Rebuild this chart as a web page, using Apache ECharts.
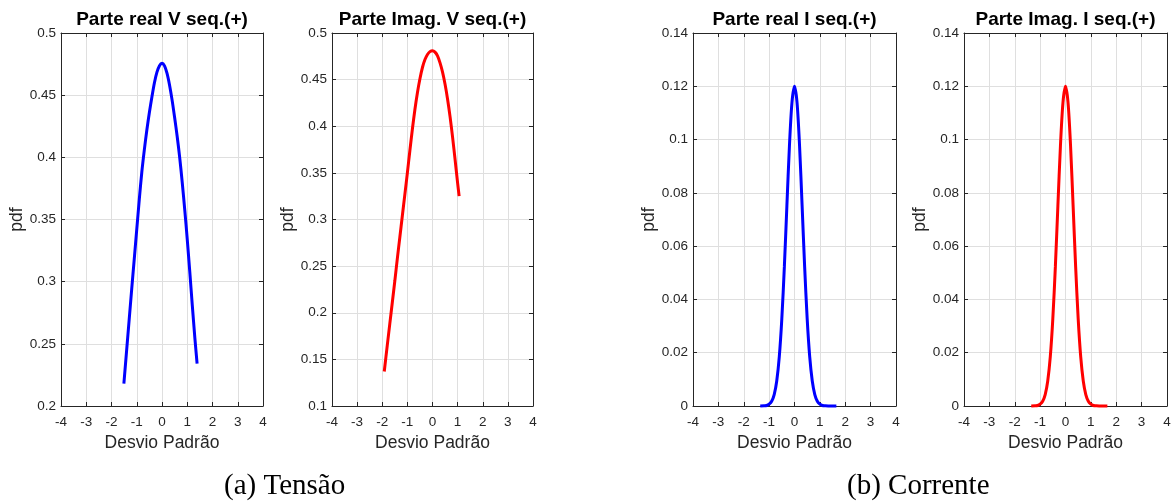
<!DOCTYPE html>
<html>
<head>
<meta charset="utf-8">
<script src="https://cdn.jsdelivr.net/npm/echarts@6/dist/echarts.min.js"></script>
<style>
html,body{margin:0;padding:0;background:#fff;}
#c{width:1176px;height:502px;}
</style>
</head>
<body>
<div id="c"></div>
<script>
// ---- data ----
const titles = ['Parte real V seq.(+)', 'Parte Imag. V seq.(+)', 'Parte real I seq.(+)', 'Parte Imag. I seq.(+)'];
const xTickLabels = ['-4', '-3', '-2', '-1', '0', '1', '2', '3', '4'];
const yTicksV1 = ['0.2', '0.25', '0.3', '0.35', '0.4', '0.45', '0.5'];
const yTicksV2 = ['0.1', '0.15', '0.2', '0.25', '0.3', '0.35', '0.4', '0.45', '0.5'];
const yTicksI = ['0', '0.02', '0.04', '0.06', '0.08', '0.1', '0.12', '0.14'];

const vRealX = [-1.51, -1.4, -1.3, -1.2, -1.1, -1.0, -0.9, -0.8, -0.7, -0.6, -0.5, -0.4, -0.3, -0.2, -0.1, 0, 0.1, 0.2, 0.3, 0.4, 0.5, 0.6, 0.7, 0.8, 0.9, 1.0, 1.1, 1.2, 1.3, 1.39];
const vRealY = [0.218, 0.245, 0.2695, 0.294, 0.318, 0.342, 0.366, 0.388, 0.406, 0.422, 0.436, 0.4485, 0.460, 0.4685, 0.4737, 0.4756, 0.4735, 0.4675, 0.458, 0.446, 0.432, 0.417, 0.400, 0.380, 0.358, 0.334, 0.308, 0.281, 0.255, 0.234];

const vImagX = [-1.92, -1.8, -1.7, -1.6, -1.5, -1.4, -1.3, -1.2, -1.1, -1.0, -0.9, -0.8, -0.7, -0.6, -0.5, -0.4, -0.3, -0.2, -0.1, 0, 0.1, 0.2, 0.3, 0.4, 0.5, 0.6, 0.7, 0.8, 0.9, 1.0, 1.06];
const vImagY = [0.137, 0.165, 0.188, 0.211, 0.234, 0.258, 0.281, 0.304, 0.327, 0.350, 0.374, 0.397, 0.418, 0.436, 0.451, 0.463, 0.4715, 0.477, 0.480, 0.481, 0.4795, 0.4755, 0.468, 0.458, 0.445, 0.429, 0.410, 0.388, 0.364, 0.339, 0.325];

const iRealX = [-1.35, -1.2, -1.1, -1.0, -0.9, -0.8, -0.7, -0.6, -0.5, -0.4, -0.3, -0.2, -0.1, 0, 0.1, 0.2, 0.3, 0.4, 0.5, 0.6, 0.7, 0.8, 0.9, 1.0, 1.1, 1.2, 1.4, 1.65];
const iRealY = [0.0, 0.0001, 0.0002, 0.0007, 0.0018, 0.0043, 0.0094, 0.0184, 0.0327, 0.0522, 0.0751, 0.0975, 0.1139, 0.1200, 0.1139, 0.0975, 0.0751, 0.0522, 0.0327, 0.0184, 0.0094, 0.0043, 0.0018, 0.0007, 0.0002, 0.0001, 0.0, 0.0];

const iImagX = [-1.35, -1.2, -1.1, -1.0, -0.9, -0.8, -0.7, -0.6, -0.5, -0.4, -0.3, -0.2, -0.1, 0, 0.1, 0.2, 0.3, 0.4, 0.5, 0.6, 0.7, 0.8, 0.9, 1.0, 1.1, 1.2, 1.4, 1.65];
const iImagY = [0.0, 0.0001, 0.0002, 0.0007, 0.0018, 0.0043, 0.0094, 0.0184, 0.0327, 0.0522, 0.0751, 0.0975, 0.1139, 0.1200, 0.1139, 0.0975, 0.0751, 0.0522, 0.0327, 0.0184, 0.0094, 0.0043, 0.0018, 0.0007, 0.0002, 0.0001, 0.0, 0.0];

const captions = ['(a) Tensão', '(b) Corrente'];

// ---- layout ----
const grids = [
  {left: 61, top: 33, width: 202, height: 373},
  {left: 332, top: 33, width: 201, height: 373},
  {left: 693, top: 33, width: 203, height: 373},
  {left: 964, top: 33, width: 203, height: 373}
];
const yCfg = [
  {min: 0.2, max: 0.5, interval: 0.05, labels: yTicksV1},
  {min: 0.1, max: 0.5, interval: 0.05, labels: yTicksV2},
  {min: 0, max: 0.14, interval: 0.02, labels: yTicksI},
  {min: 0, max: 0.14, interval: 0.02, labels: yTicksI}
];
const seriesXY = [[vRealX, vRealY], [vImagX, vImagY], [iRealX, iRealY], [iImagX, iImagY]];
const colors = ['#0000ff', '#ff0000', '#0000ff', '#ff0000'];

const AX = '#262626';
const GRIDC = '#dfdfdf';
const FONT = 'Liberation Sans, Arial, sans-serif';

const xAxes = [], yAxes = [], series = [], titleArr = [];
grids.forEach((g, i) => {
  const xBase = {
    gridIndex: i, type: 'value', min: -4, max: 4, interval: 1,
    axisLine: {show: true, onZero: false, lineStyle: {color: AX, width: 1}},
    axisTick: {show: true, inside: true, length: 4, lineStyle: {color: AX}}
  };
  xAxes.push(Object.assign({}, xBase, {
    position: 'bottom',
    axisLabel: {show: true, color: AX, fontSize: 13.5, fontFamily: FONT, margin: 9,
      formatter: (v, idx) => xTickLabels[idx] !== undefined ? xTickLabels[idx] : String(v)},
    splitLine: {show: true, lineStyle: {color: GRIDC, width: 1}},
    name: 'Desvio Padrão', nameLocation: 'middle', nameGap: 28,
    nameTextStyle: {color: AX, fontSize: 17.5, fontFamily: FONT}
  }));
  xAxes.push(Object.assign({}, xBase, {
    position: 'top', axisLabel: {show: false}, splitLine: {show: false}
  }));
  const yc = yCfg[i];
  const yBase = {
    gridIndex: i, type: 'value', min: yc.min, max: yc.max, interval: yc.interval,
    axisLine: {show: true, onZero: false, lineStyle: {color: AX, width: 1}},
    axisTick: {show: true, inside: true, length: 4, lineStyle: {color: AX}}
  };
  yAxes.push(Object.assign({}, yBase, {
    position: 'left',
    axisLabel: {show: true, color: AX, fontSize: 13.5, fontFamily: FONT, margin: 5,
      formatter: (v, idx) => yc.labels[idx] !== undefined ? yc.labels[idx] : String(v)},
    splitLine: {show: true, lineStyle: {color: GRIDC, width: 1}},
    name: 'pdf', nameLocation: 'middle', nameGap: 32, nameRotate: 90,
    nameTextStyle: {color: AX, fontSize: 17.5, fontFamily: FONT}
  }));
  yAxes.push(Object.assign({}, yBase, {
    position: 'right', axisLabel: {show: false}, splitLine: {show: false}
  }));
  const [xs, ys] = seriesXY[i];
  series.push({
    type: 'line', xAxisIndex: 2 * i, yAxisIndex: 2 * i,
    data: xs.map((x, k) => [x, ys[k]]),
    smooth: 0.3, showSymbol: false, symbol: 'none', clip: false,
    lineStyle: {color: colors[i], width: 3, cap: 'butt'},
    z: 5
  });
  titleArr.push({
    text: titles[i], left: g.left + g.width / 2, top: 10, padding: 0, textAlign: 'center',
    textStyle: {color: '#000', fontSize: 19, fontWeight: 'bold', fontFamily: FONT}
  });
});

const chart = echarts.init(document.getElementById('c'), null, {renderer: 'canvas'});
chart.setOption({
  animation: false,
  backgroundColor: '#fff',
  title: titleArr,
  grid: grids.map(g => Object.assign({containLabel: false}, g)),
  xAxis: xAxes,
  yAxis: yAxes,
  series: series,
  graphic: [
    {type: 'text', left: 224, top: 472, style: {text: captions[0], fill: '#000', font: '29px "Liberation Serif", "Times New Roman", serif'}},
    {type: 'text', left: 847, top: 472, style: {text: captions[1], fill: '#000', font: '29px "Liberation Serif", "Times New Roman", serif'}}
  ]
});
</script>
</body>
</html>
